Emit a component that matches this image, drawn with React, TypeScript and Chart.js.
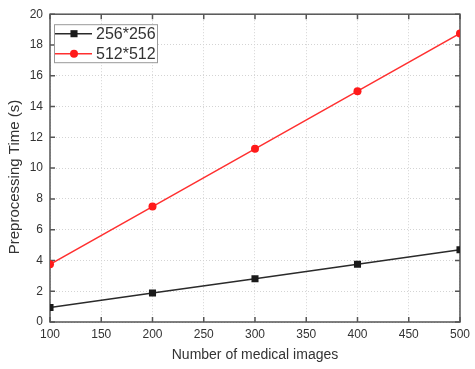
import React, { useEffect, useRef } from "react";
import { Chart, registerables } from "chart.js";

Chart.register(...registerables);

const xValues = [100, 200, 300, 400, 500];
const series256 = [0.94, 1.88, 2.81, 3.75, 4.69];
const series512 = [3.75, 7.5, 11.25, 15.0, 18.75];
const seriesNames = ["256*256", "512*512"];
const xTitle = "Number of medical images";
const yTitle = "Preprocessing Time (s)";

const FONT = "'Liberation Sans', Arial, sans-serif";
const AXIS_COLOR = "#555";
const TEXT_COLOR = "#333";

const framePlugin = {
  id: "frame",
  beforeDatasetsDraw(chart: any) {
    const { ctx, chartArea: a, scales } = chart;
    ctx.save();
    ctx.strokeStyle = AXIS_COLOR;
    ctx.lineWidth = 1.5;
    ctx.strokeRect(a.left, a.top, a.right - a.left, a.bottom - a.top);
    const tl = 5;
    ctx.beginPath();
    scales.x.ticks.forEach((t: any) => {
      const px = scales.x.getPixelForValue(t.value);
      ctx.moveTo(px, a.bottom);
      ctx.lineTo(px, a.bottom - tl);
      ctx.moveTo(px, a.top);
      ctx.lineTo(px, a.top + tl);
    });
    scales.y.ticks.forEach((t: any) => {
      const py = scales.y.getPixelForValue(t.value);
      ctx.moveTo(a.left, py);
      ctx.lineTo(a.left + tl, py);
      ctx.moveTo(a.right, py);
      ctx.lineTo(a.right - tl, py);
    });
    ctx.stroke();
    // y-axis title
    ctx.fillStyle = TEXT_COLOR;
    ctx.font = `15px ${FONT}`;
    ctx.textAlign = "center";
    ctx.textBaseline = "middle";
    ctx.translate(15, 177);
    ctx.rotate(-Math.PI / 2);
    ctx.fillText(yTitle, 0, 0);
    ctx.restore();
  },
};

function drawMarker(ctx: any, style: string, x: number, y: number, r: number, color: string) {
  ctx.fillStyle = color;
  ctx.beginPath();
  if (style === "rect") {
    const s = Math.SQRT1_2 * r;
    ctx.rect(x - s, y - s, 2 * s, 2 * s);
  } else {
    ctx.arc(x, y, r, 0, Math.PI * 2);
  }
  ctx.fill();
}

const legendPlugin = {
  id: "insideLegend",
  afterDatasetsDraw(chart: any) {
    const { ctx, chartArea: a } = chart;
    const x0 = a.left + 4;
    const y0 = a.top + 10;
    const w = 103;
    const h = 38;
    ctx.save();
    ctx.fillStyle = "#fff";
    ctx.fillRect(x0, y0, w, h);
    ctx.strokeStyle = "#999";
    ctx.lineWidth = 1;
    ctx.strokeRect(x0 + 0.5, y0 + 0.5, w, h);
    chart.data.datasets.forEach((ds: any, i: number) => {
      const cy = y0 + 9.5 + i * 20;
      ctx.strokeStyle = ds.borderColor;
      ctx.lineWidth = 1.5;
      ctx.beginPath();
      ctx.moveTo(x0 + 1, cy);
      ctx.lineTo(x0 + 38, cy);
      ctx.stroke();
      drawMarker(ctx, ds.pointStyle, x0 + 20, cy, ds.pointRadius, ds.pointBackgroundColor);
      ctx.fillStyle = TEXT_COLOR;
      ctx.font = `16px ${FONT}`;
      ctx.textBaseline = "middle";
      ctx.textAlign = "left";
      ctx.fillText(ds.label, x0 + 42, cy + 1);
    });
    ctx.restore();
  },
};

export default function App() {
  const ref = useRef<HTMLCanvasElement>(null);
  useEffect(() => {
    document.body.style.margin = "0";
    const canvas = ref.current!;
    const chart = new Chart(canvas, {
      type: "line",
      data: {
        datasets: [
          {
            label: seriesNames[0],
            data: xValues.map((x, i) => ({ x, y: series256[i] })),
            borderColor: "#2a2a2a",
            backgroundColor: "#1a1a1a",
            pointBackgroundColor: "#1a1a1a",
            pointBorderWidth: 0,
            pointStyle: "rect",
            pointRadius: 5,
            borderWidth: 1.5,
          },
          {
            label: seriesNames[1],
            data: xValues.map((x, i) => ({ x, y: series512[i] })),
            borderColor: "#ff3030",
            backgroundColor: "#ff1a1a",
            pointBackgroundColor: "#ff1a1a",
            pointBorderWidth: 0,
            pointStyle: "circle",
            pointRadius: 4,
            borderWidth: 1.5,
          },
        ],
      },
      options: {
        responsive: false,
        animation: false,
        layout: { padding: { top: 13, right: 11, left: 0, bottom: 0 } },
        plugins: { legend: { display: false }, tooltip: { enabled: false } },
        scales: {
          x: {
            type: "linear",
            min: 100,
            max: 500,
            ticks: {
              stepSize: 50,
              color: TEXT_COLOR,
              font: { family: FONT, size: 12 },
              padding: 5,
              maxRotation: 0,
            },
            grid: { color: "#d4d4d4", drawTicks: false, lineWidth: 1 },
            border: { display: false, dash: [1, 2] },
            title: {
              display: true,
              text: xTitle,
              color: TEXT_COLOR,
              font: { family: FONT, size: 14 },
              padding: { top: 0, bottom: 5 },
            },
            afterFit: (s: any) => {
              s.height = 47;
            },
          },
          y: {
            min: 0,
            max: 20,
            ticks: {
              stepSize: 2,
              color: TEXT_COLOR,
              font: { family: FONT, size: 12 },
              padding: 7,
            },
            grid: { color: "#d4d4d4", drawTicks: false, lineWidth: 1 },
            border: { display: false, dash: [1, 2] },
            title: { display: false },
            afterFit: (s: any) => {
              s.width = 50;
            },
          },
        },
      },
      plugins: [framePlugin, legendPlugin],
    });
    return () => chart.destroy();
  }, []);
  return <canvas ref={ref} width={475} height={369} style={{ display: "block" }} />;
}
